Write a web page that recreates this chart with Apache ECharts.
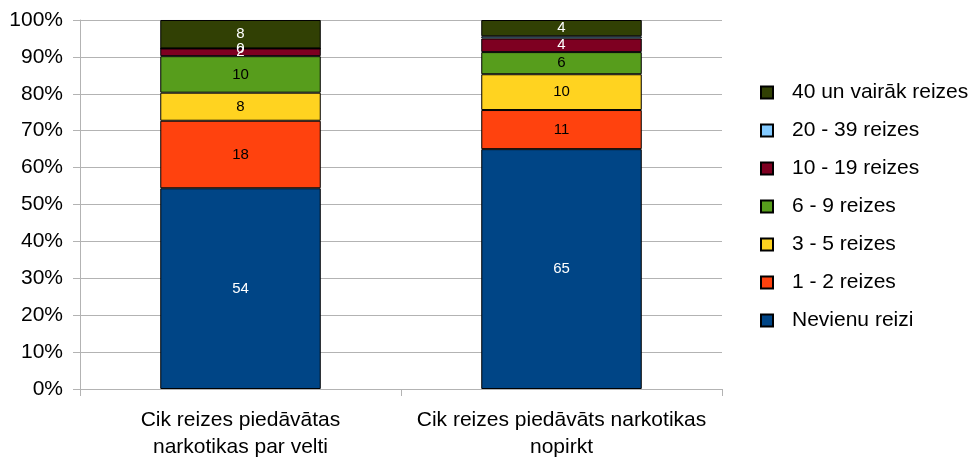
<!DOCTYPE html>
<html>
<head>
<meta charset="utf-8">
<script src="https://cdn.jsdelivr.net/npm/echarts@6/dist/echarts.min.js"></script>
<style>html,body{margin:0;padding:0;background:#fff}#c{width:969px;height:461px}</style>
</head>
<body>
<div id="c"></div>
<script>
const categories = ['Cik reizes piedāvātas\nnarkotikas par velti', 'Cik reizes piedāvāts narkotikas\nnopirkt'];
const seriesNames = ['Nevienu reizi', '1 - 2 reizes', '3 - 5 reizes', '6 - 9 reizes', '10 - 19 reizes', '20 - 39 reizes', '40 un vairāk reizes'];
const nevienu = [54.4, 65.0];
const r1_2 = [18.3, 10.6];
const r3_5 = [7.6, 9.7];
const r6_9 = [9.9, 6.0];
const r10_19 = [2.1, 3.7];
const r20_39 = [0, 0.6];
const r40 = [7.7, 4.4];
const colors = ['#004586', '#ff420e', '#ffd320', '#579d1c', '#7e0021', '#83caff', '#314004'];
const labelColors = ['#fff', '#000', '#000', '#000', '#fff', '#fff', '#fff'];
const yTicks = [0, 10, 20, 30, 40, 50, 60, 70, 80, 90, 100];

const allData = [nevienu, r1_2, r3_5, r6_9, r10_19, r20_39, r40];
const FONT = 'Liberation Sans, Arial, sans-serif';

const chart = echarts.init(document.getElementById('c'), null, {renderer: 'canvas'});
chart.setOption({
  animation: false,
  color: colors,
  grid: {left: 80, right: 247, top: 20, bottom: 71, containLabel: false},
  legend: {
    orient: 'vertical',
    left: 755,
    top: 77,
    icon: 'rect',
    itemWidth: 12,
    itemHeight: 12,
    itemGap: 17,
    data: seriesNames.slice().reverse(),
    textStyle: {fontFamily: FONT, fontSize: 21, lineHeight: 21, color: '#000', padding: [0, 0, 0, 14]}
  },
  xAxis: {
    type: 'category',
    data: categories,
    axisLine: {lineStyle: {color: '#b3b3b3', width: 1}},
    axisTick: {show: true, length: 7, lineStyle: {color: '#b3b3b3'}},
    axisLabel: {fontFamily: FONT, fontSize: 21, lineHeight: 27, color: '#000', margin: 18, interval: 0}
  },
  yAxis: {
    type: 'value',
    min: yTicks[0],
    max: yTicks[yTicks.length - 1],
    interval: 10,
    axisLine: {show: true, lineStyle: {color: '#b3b3b3'}},
    axisTick: {show: true, length: 7, lineStyle: {color: '#b3b3b3'}},
    splitLine: {lineStyle: {color: '#b3b3b3', width: 1}},
    axisLabel: {fontFamily: FONT, fontSize: 21, color: '#000', margin: 17, formatter: v => v + '%'}
  },
  series: seriesNames.map((name, i) => ({
    name: name,
    type: 'bar',
    stack: 'total',
    barWidth: '50%',
    data: allData[i],
    itemStyle: {color: colors[i], borderColor: '#000', borderWidth: 1},
    label: {
      show: true,
      position: 'inside',
      fontFamily: FONT,
      fontSize: 15,
      color: labelColors[i],
      formatter: p => (p.value > 0 && p.value < 1) ? '' : String(Math.round(p.value))
    }
  }))
});
</script>
</body>
</html>
